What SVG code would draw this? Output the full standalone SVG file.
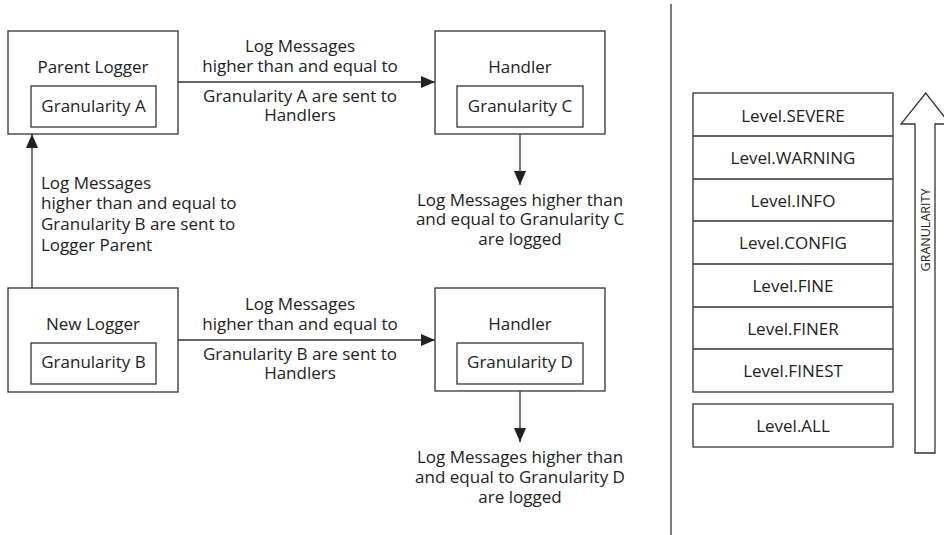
<svg xmlns="http://www.w3.org/2000/svg" width="944" height="535" viewBox="0 0 944 535">
<defs>
<style>
.box{fill:#fff;stroke:#333;stroke-width:1.3}
.ln{fill:none;stroke:#333;stroke-width:1.3}
text{font-family:"Open Sans","Noto Sans",sans-serif;font-size:17px;fill:#222}
.c{text-anchor:middle}
.g{font-size:12.5px}
</style>
<marker id="ah" viewBox="0 0 14 12" refX="14" refY="6" markerWidth="14" markerHeight="12" markerUnits="userSpaceOnUse" orient="auto">
<path d="M0,0 L14,6 L0,12 Z" fill="#222"/>
</marker>
</defs>
<rect width="944" height="535" fill="#fff"/>
<g id="connectors">
<line class="ln" x1="178" y1="82" x2="435" y2="82" marker-end="url(#ah)"/>
<line class="ln" x1="178" y1="340" x2="435" y2="340" marker-end="url(#ah)"/>
<line class="ln" x1="32" y1="288" x2="32" y2="134" marker-end="url(#ah)"/>
<line class="ln" x1="520" y1="134" x2="520" y2="185" marker-end="url(#ah)"/>
<line class="ln" x1="520" y1="391" x2="520" y2="442" marker-end="url(#ah)"/>
<text class="c" x="300" y="52">Log Messages</text>
<text class="c" x="300" y="72">higher than and equal to</text>
<text class="c" x="300" y="102">Granularity A are sent to</text>
<text class="c" x="300" y="121">Handlers</text>
<text class="c" x="300" y="310">Log Messages</text>
<text class="c" x="300" y="330">higher than and equal to</text>
<text class="c" x="300" y="360">Granularity B are sent to</text>
<text class="c" x="300" y="379">Handlers</text>
<text x="41" y="189">Log Messages</text>
<text x="41" y="209">higher than and equal to</text>
<text x="41" y="230">Granularity B are sent to</text>
<text x="41" y="251">Logger Parent</text>
<text class="c" x="520" y="206">Log Messages higher than</text>
<text class="c" x="520" y="225">and equal to Granularity C</text>
<text class="c" x="520" y="245">are logged</text>
<text class="c" x="520" y="463">Log Messages higher than</text>
<text class="c" x="520" y="483">and equal to Granularity D</text>
<text class="c" x="520" y="503">are logged</text>
</g>
<g id="parent-logger">
<rect class="box" x="8" y="31" width="170" height="103"/>
<text class="c" x="93" y="73">Parent Logger</text>
<rect class="box" x="31" y="86" width="125" height="41"/>
<text class="c" x="93.5" y="112">Granularity A</text>
</g>
<g id="new-logger">
<rect class="box" x="8" y="288" width="170" height="104"/>
<text class="c" x="93" y="330">New Logger</text>
<rect class="box" x="31" y="343" width="125" height="41"/>
<text class="c" x="93.5" y="368">Granularity B</text>
</g>
<g id="handler-c">
<rect class="box" x="435" y="31" width="170" height="103"/>
<text class="c" x="520" y="73">Handler</text>
<rect class="box" x="457" y="86" width="126" height="41"/>
<text class="c" x="520" y="112">Granularity C</text>
</g>
<g id="handler-d">
<rect class="box" x="435" y="288" width="170" height="103"/>
<text class="c" x="520" y="330">Handler</text>
<rect class="box" x="457" y="343" width="126" height="41"/>
<text class="c" x="520" y="368">Granularity D</text>
</g>
<line id="divider" class="ln" x1="671" y1="4" x2="671" y2="535"/>
<g id="levels">
<rect class="box" x="693" y="93" width="200" height="299"/>
<line class="ln" x1="693" y1="136" x2="893" y2="136"/>
<line class="ln" x1="693" y1="179" x2="893" y2="179"/>
<line class="ln" x1="693" y1="221" x2="893" y2="221"/>
<line class="ln" x1="693" y1="264" x2="893" y2="264"/>
<line class="ln" x1="693" y1="307" x2="893" y2="307"/>
<line class="ln" x1="693" y1="349" x2="893" y2="349"/>
<text class="c" x="793" y="122">Level.SEVERE</text>
<text class="c" x="793" y="164">Level.WARNING</text>
<text class="c" x="793" y="207">Level.INFO</text>
<text class="c" x="793" y="249">Level.CONFIG</text>
<text class="c" x="793" y="292">Level.FINE</text>
<text class="c" x="793" y="335">Level.FINER</text>
<text class="c" x="793" y="377">Level.FINEST</text>
</g>
<g id="level-all">
<rect class="box" x="693" y="404" width="200" height="43"/>
<text class="c" x="793" y="432">Level.ALL</text>
</g>
<g id="granularity-arrow">
<path class="box" d="M915,453 L915,124 L901,124 L925.7,93 L950,124 L935,124 L935,453 Z"/>
<text class="c g" transform="translate(930,230) rotate(-90)">GRANULARITY</text>
</g>
</svg>
